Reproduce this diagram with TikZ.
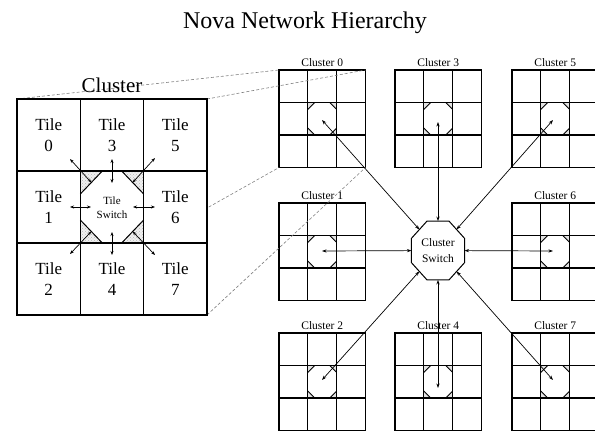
\documentclass[tikz,border=0pt]{standalone}
\usepackage{fontspec}
\setmainfont{Liberation Serif}
\usetikzlibrary{arrows.meta,shapes.geometric,patterns}

\tikzset{
  x=1pt, y=-1pt,
  gridline/.style={line width=1.2pt, black},
  octline/.style={line width=0.9pt, black},
  shade/.style={fill=gray!22},
  bigshade/.style={fill=gray!12, postaction={pattern=crosshatch dots, pattern color=gray!55}},
  link/.style={line width=0.7pt, {Stealth[length=4.5pt,width=3.2pt]}-{Stealth[length=4.5pt,width=3.2pt]}},
  tilelink/.style={line width=0.7pt, {Stealth[length=4pt,width=3pt]}-{Stealth[length=4pt,width=3pt]}},
  proj/.style={gray, line width=0.6pt, dash pattern=on 3pt off 2pt},
  smalllabel/.style={font=\fontsize{11.5}{13}\selectfont, anchor=base, inner sep=0pt},
  tiletext/.style={font=\fontsize{17}{21.5}\selectfont, align=center, inner sep=0pt},
  % a 3x3 cluster of tiles with its switch in the middle cell
  minicluster/.pic={
    \fill[shade] (28.83,32.5) -- (35.83,32.5) -- (28.83,39.5) -- cycle;
    \fill[shade] (57.67,32.5) -- (50.67,32.5) -- (57.67,39.5) -- cycle;
    \fill[shade] (28.83,65) -- (35.83,65) -- (28.83,58) -- cycle;
    \fill[shade] (57.67,65) -- (50.67,65) -- (57.67,58) -- cycle;
    \draw[gridline] (0,0) rectangle (86.5,97.5);
    \draw[gridline] (28.83,0) -- (28.83,97.5) (57.67,0) -- (57.67,97.5)
                    (0,32.5) -- (86.5,32.5) (0,65) -- (86.5,65);
    \draw[octline] (35.83,32.5) -- (28.83,39.5) (50.67,32.5) -- (57.67,39.5)
                   (35.83,65) -- (28.83,58) (50.67,65) -- (57.67,58);
    \node[smalllabel] (-label) at (43.25,-4) {Cluster #1};
    \coordinate (-hub) at (43.25,48.75);
  }
}

\begin{document}
\begin{tikzpicture}
\useasboundingbox (0,0) rectangle (595,431);

% title
\node[font=\fontsize{24}{28}\selectfont, anchor=base, inner sep=0pt] (title) at (305,28) {Nova Network Hierarchy};

% the eight clusters
\pic (c0) at (279,70)  {minicluster=0};
\pic (c3) at (395,70)  {minicluster=3};
\pic (c5) at (512,70)  {minicluster=5};
\pic (c1) at (279,203) {minicluster=1};
\pic (c6) at (512,203) {minicluster=6};
\pic (c2) at (279,333) {minicluster=2};
\pic (c4) at (395,333) {minicluster=4};
\pic (c7) at (512,333) {minicluster=7};

% arrow end points inside each cluster switch
\coordinate (h0) at (322,120);
\coordinate (h3) at (438,122);
\coordinate (h5) at (553,120);
\coordinate (h1) at (322,251);
\coordinate (h6) at (553,251);
\coordinate (h2) at (322,380);
\coordinate (h4) at (438,388);
\coordinate (h7) at (553,380);

% central cluster switch: an octagon stretched slightly upright
\node[regular polygon, regular polygon sides=8,
      minimum size=57.4pt, inner sep=0pt, outer sep=0pt, draw, line width=1pt,
      yscale=1.11, transform shape] (cs) at (438,250.5) {};
\node[font=\fontsize{11.5}{16}\selectfont, align=center, inner sep=0pt] (cslabel) at (438,250.5) {Cluster\\Switch};

\foreach \h in {h0,h3,h5,h1,h6,h2,h4,h7}
  \draw[link] (cs) -- (\h);

% projection lines from the enlarged cluster to cluster 0
\coordinate (b-nw) at (17,99);
\coordinate (b-ne) at (207,99);
\coordinate (b-sw) at (17,315);
\coordinate (b-se) at (207,315);
\coordinate (s-nw) at (279,70);
\coordinate (s-ne) at (365.5,70);
\coordinate (s-sw) at (279,167.5);
\coordinate (s-se) at (365.5,167.5);
\draw[proj] (b-nw) -- (s-nw);
\draw[proj] (b-ne) -- (s-ne);
\draw[proj] (b-sw) -- (s-sw);
\draw[proj] (b-se) -- (s-se);

% enlarged cluster
\fill[white] (b-nw) rectangle (b-se);
\fill[bigshade] (80.33,171) -- (102.33,171) -- (80.33,194) -- cycle;
\fill[bigshade] (143.67,171) -- (121.67,171) -- (143.67,194) -- cycle;
\fill[bigshade] (80.33,243) -- (102.33,243) -- (80.33,220) -- cycle;
\fill[bigshade] (143.67,243) -- (121.67,243) -- (143.67,220) -- cycle;
\draw[gridline, line width=1.3pt] (b-nw) rectangle (b-se);
\draw[gridline, line width=1.3pt] (80.33,99) -- (80.33,315) (143.67,99) -- (143.67,315)
                (17,171) -- (207,171) (17,243) -- (207,243);
\draw[octline, line width=1pt] (102.33,171) -- (80.33,194) (121.67,171) -- (143.67,194)
               (102.33,243) -- (80.33,220) (121.67,243) -- (143.67,220);

\node[font=\fontsize{21}{24}\selectfont, anchor=base, inner sep=0pt] (clabel) at (112,92) {Cluster};

\node[tiletext] (t0) at (48.7,135) {Tile\\0};
\node[tiletext] (t3) at (112,135) {Tile\\3};
\node[tiletext] (t5) at (175.3,135) {Tile\\5};
\node[tiletext] (t1) at (48.7,207) {Tile\\1};
\node[tiletext] (t6) at (175.3,207) {Tile\\6};
\node[tiletext] (t2) at (48.7,279) {Tile\\2};
\node[tiletext] (t4) at (112,279) {Tile\\4};
\node[tiletext] (t7) at (175.3,279) {Tile\\7};
\node[font=\fontsize{11}{14}\selectfont, align=center, inner sep=0pt] (ts) at (112,208) {Tile\\Switch};

% tile switch ports
\coordinate (p-nw) at (91.3,182.5);
\coordinate (p-n)  at (112,183);
\coordinate (p-ne) at (132.7,182.5);
\coordinate (p-w)  at (91,207);
\coordinate (p-e)  at (133,207);
\coordinate (p-sw) at (91.3,231.5);
\coordinate (p-s)  at (112,232);
\coordinate (p-se) at (132.7,231.5);
\coordinate (q-nw) at (70,159);
\coordinate (q-n)  at (112,159);
\coordinate (q-ne) at (155,158);
\coordinate (q-w)  at (70,207);
\coordinate (q-e)  at (155,207);
\coordinate (q-sw) at (70,254);
\coordinate (q-s)  at (112,255);
\coordinate (q-se) at (155,255);
\foreach \d in {nw,n,ne,w,e,sw,s,se}
  \draw[tilelink] (p-\d) -- (q-\d);
\end{tikzpicture}
\end{document}
